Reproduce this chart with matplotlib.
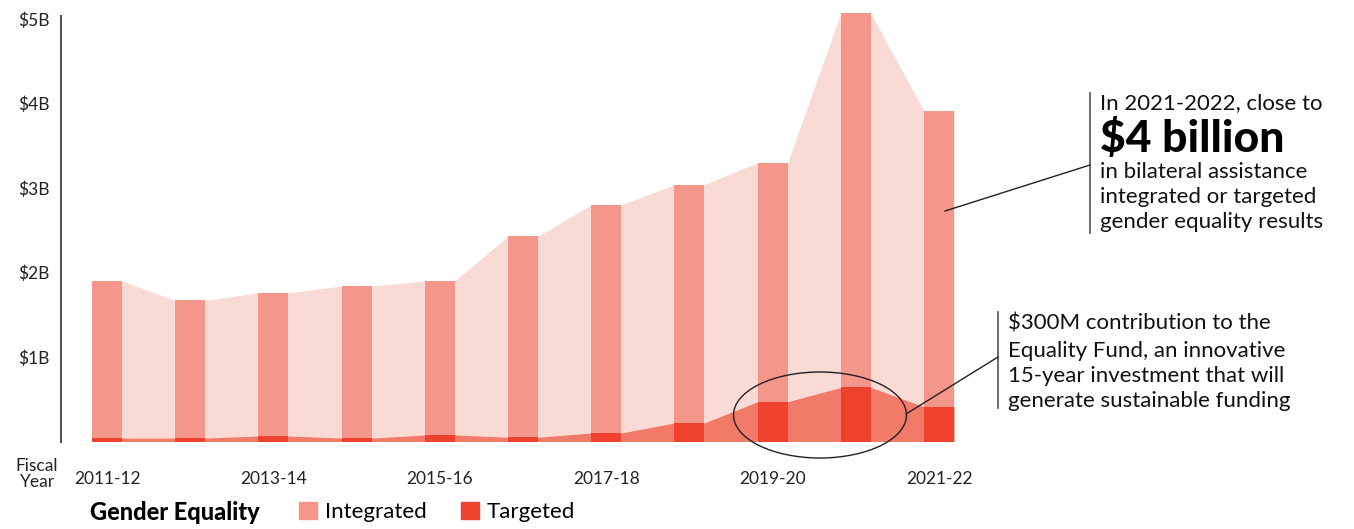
import numpy as np
import matplotlib.pyplot as plt
from matplotlib.patches import Ellipse, Patch

years = ["2011-12", "2012-13", "2013-14", "2014-15", "2015-16", "2016-17",
         "2017-18", "2018-19", "2019-20", "2020-21", "2021-22"]
# total (integrated + targeted), $B
total = [1.90, 1.67, 1.76, 1.84, 1.90, 2.43, 2.80, 3.04, 3.30, 5.07, 3.91]
# targeted share, $B
targeted = [0.04, 0.04, 0.065, 0.04, 0.077, 0.05, 0.10, 0.22, 0.47, 0.64, 0.41]
ytick_vals = [1, 2, 3, 4, 5]
ytick_labels = ["$1B", "$2B", "$3B", "$4B", "$5B"]

c_int = "#F5968A"
c_tgt = "#EE412E"
c_int_area = "#FADAD5"
c_tgt_area = "#F17A69"

plt.rcParams['font.family'] = ['Lato', 'DejaVu Sans']

W, H = 1354, 529
fig = plt.figure(figsize=[W / 100, H / 100], dpi=100)

# pixel layout helpers
x0_px, step_px = 107, 83.2
ax_left_px, y0_px, px_per_b = 61, 441.5, 84.5
ymax = 5.2
xmin = (ax_left_px - x0_px) / step_px
xmax = (W - x0_px) / step_px
ax = fig.add_axes([ax_left_px / W, (H - y0_px) / H, 1 - ax_left_px / W, ymax * px_per_b / H])

x = np.arange(len(years))
bw = 30 / step_px

# areas joining the bar tops
xe = np.ravel(np.column_stack([x - bw / 2, x + bw / 2]))
ax.fill_between(xe, 0, np.repeat(total, 2), color=c_int_area, linewidth=0, zorder=1)
ax.fill_between(xe, 0, np.repeat(targeted, 2), color=c_tgt_area, linewidth=0, zorder=2)

ax.bar(x, total, width=bw, color=c_int, linewidth=0, zorder=3)
ax.bar(x, targeted, width=bw, color=c_tgt, linewidth=0, zorder=4)

ax.set_xlim(xmin, xmax)
ax.set_ylim(0, ymax)
for s in ["top", "right", "bottom"]:
    ax.spines[s].set_visible(False)
ax.spines["left"].set_bounds(0, 5.04)
ax.spines["left"].set_color("#555555")
ax.spines["left"].set_linewidth(1.5)

ax.set_yticks(ytick_vals)
ax.set_yticklabels(ytick_labels, fontsize=12.5, color="#222222")
ax.tick_params(axis="y", length=0, pad=8)
ax.set_xticks(x[::2])
ax.set_xticklabels(years[::2], fontsize=12.5, color="#222222")
ax.tick_params(axis="x", length=0, pad=21)

fig.text(37 / W, 1 - 474 / H, "Fiscal\nYear", ha="center", va="center",
         fontsize=12.5, color="#222222", linespacing=1.0)

# annotation: $4 billion
def px(xp, yp):
    return ((xp - x0_px) / step_px, (y0_px - yp) / px_per_b)

ax.plot(*zip(px(1090, 93), px(1090, 233)), color="#555555", lw=1.2, clip_on=False, zorder=7)
ax.plot(*zip(px(945, 211), px(1090, 165)), color="#222222", lw=1.0, clip_on=False, zorder=7)
tx, _ = px(1100, 0)
ax.text(tx, px(0, 103)[1], "In 2021-2022, close to", fontsize=16, va="center", color="#111111")
ax.text(tx, px(0, 139)[1], "$4 billion", fontsize=32, fontweight="black", va="center", color="#000000")
for yp, t in [(172, "in bilateral assistance"), (197, "integrated or targeted"),
              (222, "gender equality results")]:
    ax.text(tx, px(0, yp)[1], t, fontsize=16, va="center", color="#111111")

# annotation: Equality Fund
cx, cy = px(820, 415)
ax.add_patch(Ellipse((cx, cy), 173 / step_px, 86 / px_per_b, fill=False,
                     edgecolor="#222222", lw=1.0, zorder=7, clip_on=False))
ax.plot(*zip(px(998, 312), px(998, 408)), color="#555555", lw=1.2, clip_on=False, zorder=7)
ax.plot(*zip(px(906, 414), px(998, 357)), color="#222222", lw=1.0, clip_on=False, zorder=7)
tx2, _ = px(1008, 0)
for yp, t in [(324, "$300M contribution to the"), (351, "Equality Fund, an innovative"),
              (376, "15-year investment that will"), (401, "generate sustainable funding")]:
    ax.text(tx2, px(0, yp)[1], t, fontsize=16, va="center", color="#111111")

# legend
fig.text(90 / W, 1 - 512 / H, "Gender Equality", fontsize=17, fontweight="black",
         va="center", ha="left")
handles = [Patch(color=c_int), Patch(color=c_tgt)]
fig.legend(handles, ["Integrated", "Targeted"], loc="center left",
           bbox_to_anchor=(299 / W, 1 - 512 / H), ncol=2, frameon=False,
           borderpad=0, borderaxespad=0,
           fontsize=16, handlelength=0.8, handleheight=0.8, handletextpad=0.35,
           columnspacing=1.55)

fig.savefig("out.png", dpi=100)
